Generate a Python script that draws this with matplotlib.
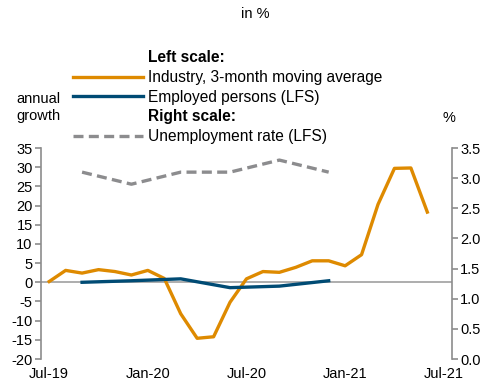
import numpy as np
import matplotlib
matplotlib.use("Agg")
import matplotlib.pyplot as plt
from matplotlib.lines import Line2D

plt.rcParams['font.family'] = ['Liberation Sans', 'DejaVu Sans']
plt.rcParams['axes.unicode_minus'] = False

# monthly index: 0 = Jul-19 ... 24 = Jul-21
tick_pos = [0, 6, 12, 18, 24]
tick_labels = ["Jul-19", "Jan-20", "Jul-20", "Jan-21", "Jul-21"]

# Industry, 3-month moving average (monthly, Jul-19 .. Jun-21)
industry_x = list(range(0, 24))
industry = [0.2, 3.1, 2.4, 3.3, 2.8, 1.9, 3.1, 1.0, -8.2, -14.6, -14.2, -5.2,
            0.9, 2.8, 2.6, 3.9, 5.6, 5.6, 4.3, 7.2, 20.3, 29.7, 29.8, 18.3]

# Employed persons (LFS), quarterly
employed_x = [2, 5, 8, 11, 14, 17]
employed = [0.0, 0.4, 0.9, -1.4, -1.0, 0.4]

# Unemployment rate (LFS), quarterly, right scale
unemp_x = [2, 5, 8, 11, 14, 17]
unemp = [3.1, 2.9, 3.1, 3.1, 3.3, 3.1]

ORANGE = "#DE8A00"
BLUE = "#004B74"
GREY = "#8C8C8E"
AXIS = "#8C8C8C"

fig = plt.figure(figsize=(4.89, 3.85), dpi=100)
ax = fig.add_axes([0.0838, 0.0675, 0.8405, 0.548])
ax2 = ax.twinx()

ax.axhline(0, color="#A0A0A0", lw=1.2, zorder=1)
ax.plot(industry_x, industry, color=ORANGE, lw=2.4, zorder=3)
ax.plot(employed_x, employed, color=BLUE, lw=2.4, zorder=4)
ax2.plot(unemp_x, unemp, color=GREY, lw=2.4, ls=(0, (3, 1.6)))

ax.set_xlim(-0.5, 24.5)
ax.set_ylim(-20, 35)
ax.set_yticks(np.arange(-20, 36, 5))
ax2.set_ylim(0, 3.5)
ax2.set_yticks(np.arange(0, 3.51, 0.5))
ax2.set_yticklabels([f"{v:.1f}" for v in np.arange(0, 3.51, 0.5)])
ax.set_xticks(tick_pos)
ax.set_xticklabels(tick_labels)

for a in (ax, ax2):
    for s in a.spines.values():
        s.set_visible(False)
    a.tick_params(axis="both", labelsize=10.5, colors=AXIS, labelcolor="black",
                  length=4, width=1.2)
ax.spines["left"].set_visible(True)
ax.spines["left"].set_color(AXIS)
ax.spines["left"].set_linewidth(1.2)
ax2.spines["right"].set_visible(True)
ax2.spines["right"].set_color(AXIS)
ax2.spines["right"].set_linewidth(1.2)
ax.tick_params(axis="x", length=0, pad=6)
ax.tick_params(axis="y", pad=2)
ax2.tick_params(axis="y", pad=2)

# legend with headers
blank = Line2D([], [], color="none")
handles = [blank,
           Line2D([], [], color=ORANGE, lw=2.4),
           Line2D([], [], color=BLUE, lw=2.4),
           blank,
           Line2D([], [], color=GREY, lw=2.4, ls=(0, (3, 1.6)))]
labels = ["Left scale:", "Industry, 3-month moving average",
          "Employed persons (LFS)", "Right scale:", "Unemployment rate (LFS)"]
leg = fig.legend(handles, labels, loc="upper left", bbox_to_anchor=(0.150, 0.869),
                 frameon=False, fontsize=11.2, handlelength=4.5, handletextpad=0.33,
                 labelspacing=0.30, borderaxespad=0, borderpad=0)
for i in (0, 3):
    leg.get_texts()[i].set_fontweight("bold")

fig.text(0.522, 0.963, "in %", ha="center", va="center", fontsize=10.5)
fig.text(0.078, 0.72, "annual\ngrowth", ha="center", va="center", fontsize=10.5,
         linespacing=1.25)
fig.text(0.918, 0.693, "%", ha="center", va="center", fontsize=10.5)

fig.savefig("out.png", dpi=100)
